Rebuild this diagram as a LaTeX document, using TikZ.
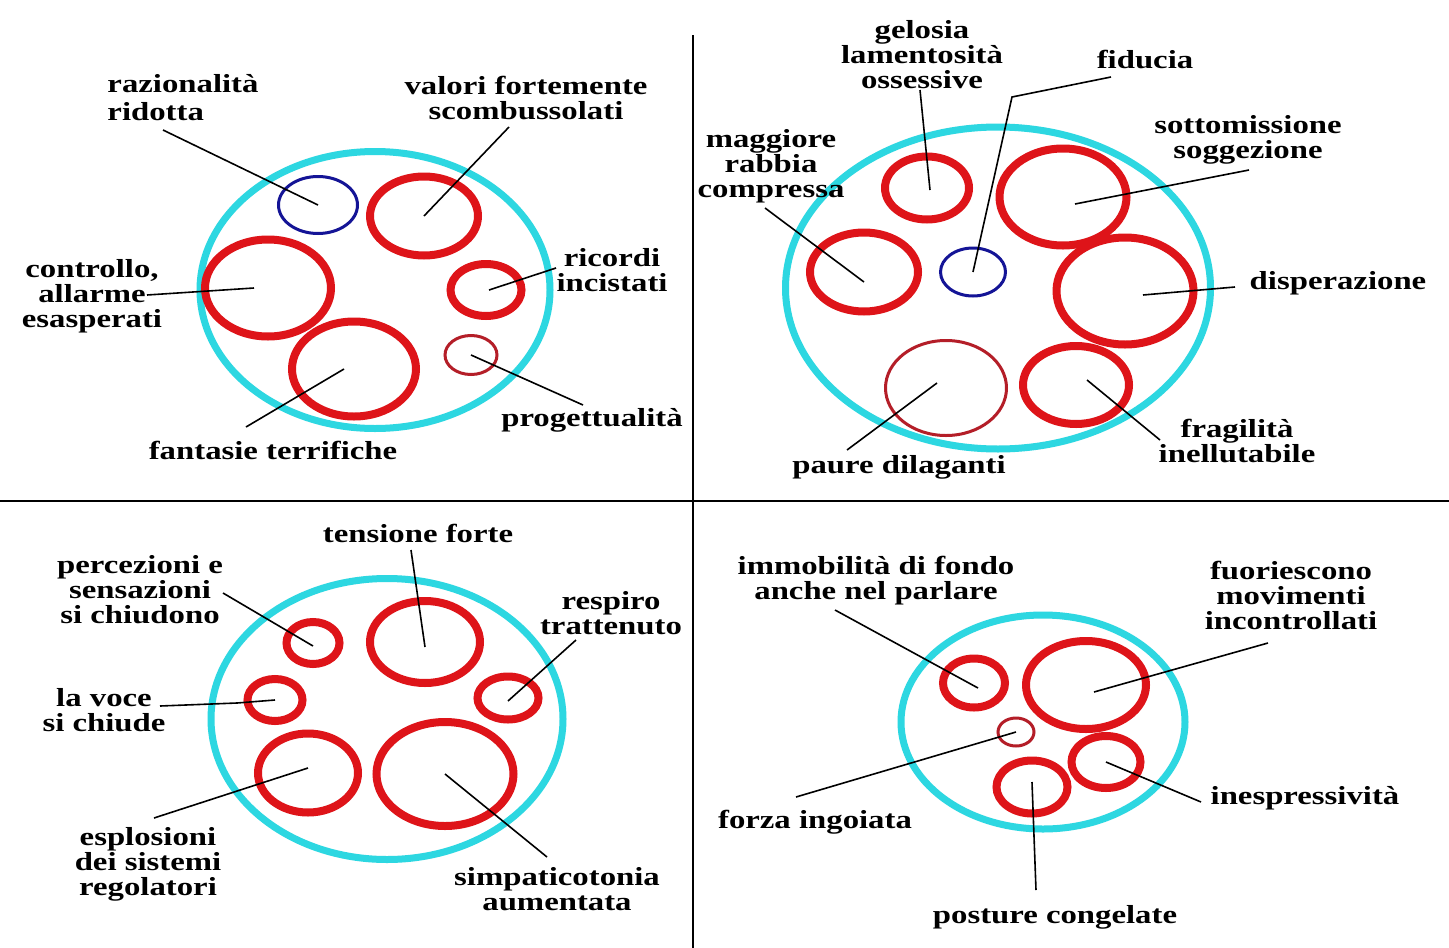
\documentclass[tikz,border=0pt]{standalone}
\usepackage{fontspec}
\setmainfont{Liberation Serif}[FakeStretch=1.26]
\usetikzlibrary{shapes.geometric}
\definecolor{cy}{RGB}{45,215,225}
\definecolor{rd}{RGB}{222,20,25}
\definecolor{drd}{RGB}{180,30,40}
\definecolor{bl}{RGB}{20,20,150}
\tikzset{
  ring/.style args={#1/#2}{ellipse, inner sep=0pt, outer sep=0pt, minimum width=#1, minimum height=#2},
  outer/.style={draw=cy, line width=7pt},
  thick red/.style={draw=rd, line width=8pt},
  thin red/.style={draw=drd, line width=3pt},
  thin blue/.style={draw=bl, line width=3pt},
  lbl/.style={font=\fontsize{26}{25}\selectfont\bfseries, align=center, inner sep=0pt, text=black},
  leader/.style={draw=black, line width=1.6pt},
  divider/.style={draw=black, line width=2pt}
}
\begin{document}
\begin{tikzpicture}[x=1pt, y=-1pt]
\useasboundingbox[fill=white] (0,0) rectangle (1449,948);
% dividers
\coordinate (vt) at (693,35);
\coordinate (vb) at (693,948);
\coordinate (hl) at (0,501);
\coordinate (hr) at (1449,501);
\draw[divider] (vt) -- (vb);
\draw[divider] (hl) -- (hr);

% ---------------- Quadrant 1 ----------------
\node[ring=350pt/277pt, outer] (c1) at (375,290) {};
\node[ring=79pt/57pt, thin blue] (q1raz) at (318,205) {};
\node[ring=108pt/79pt, thick red] (q1val) at (424,216) {};
\node[ring=126pt/97pt, thick red] (q1con) at (268,288) {};
\node[ring=71pt/52pt, thick red] (q1ric) at (486,290) {};
\node[ring=52pt/39pt, thin red] (q1pro) at (471,355) {};
\node[ring=124pt/95pt, thick red] (q1fan) at (354,369) {};

\node[lbl, align=left, font=\fontsize{26}{28}\selectfont\bfseries] (t1raz) at (183,98) {razionalità\\ridotta};
\node[lbl] (t1val) at (526,98) {valori fortemente\\scombussolati};
\node[lbl] (t1con) at (92,296) {controllo,\\allarme\\esasperati};
\node[lbl] (t1ric) at (612,270) {ricordi\\incistati};
\node[lbl] (t1pro) at (592,420) {progettualità};
\node[lbl] (t1fan) at (273,450) {fantasie terrifiche};

\coordinate (a1raz) at (163,130);
\coordinate (a1val) at (509,127);
\coordinate (a1con) at (147,295);
\coordinate (a1ric) at (556,268);
\coordinate (a1pro) at (583,405);
\coordinate (a1fan) at (246,427);
\draw[leader] (a1raz) -- (q1raz.center);
\draw[leader] (a1val) -- (q1val.center);
\draw[leader] (a1con) -- ([xshift=-14pt]q1con.center);
\draw[leader] (a1ric) -- ([xshift=3pt]q1ric.center);
\draw[leader] (a1pro) -- (q1pro.center);
\draw[leader] (a1fan) -- ([xshift=-10pt]q1fan.center);

% ---------------- Quadrant 2 ----------------
\node[ring=425pt/322pt, outer] (c2) at (998,288) {};
\node[ring=84pt/63pt, thick red] (q2gel) at (927,188) {};
\node[ring=127pt/97pt, thick red] (q2sot) at (1063,197) {};
\node[ring=108pt/79pt, thick red] (q2mag) at (864,272) {};
\node[ring=65pt/48pt, thin blue] (q2fid) at (973,272) {};
\node[ring=137pt/107pt, thick red] (q2dis) at (1125,291) {};
\node[ring=121pt/95pt, thin red] (q2pau) at (946,388) {};
\node[ring=106pt/78pt, thick red] (q2fra) at (1076,385) {};

\node[lbl] (t2gel) at (922,55) {gelosia\\lamentosità\\ossessive};
\node[lbl] (t2fid) at (1145,60) {fiducia};
\node[lbl] (t2sot) at (1248,140) {sottomissione\\soggezione};
\node[lbl] (t2mag) at (771,166) {maggiore\\rabbia\\compressa};
\node[lbl] (t2dis) at (1338,283) {disperazione};
\node[lbl] (t2pau) at (899,467) {paure dilaganti};
\node[lbl] (t2fra) at (1237,441) {fragilità\\inellutabile};

\coordinate (a2gel) at (920,90);
\coordinate (a2fid) at (1111,77);
\coordinate (b2fid) at (1012,97);
\coordinate (a2sot) at (1249,170);
\coordinate (a2mag) at (765,208);
\coordinate (a2dis) at (1235,287);
\coordinate (a2pau) at (847,450);
\coordinate (a2fra) at (1160,440);
\draw[leader] (a2gel) -- ([xshift=3pt,yshift=-2pt]q2gel.center);
\draw[leader] (a2fid) -- (b2fid) -- (q2fid.center);
\draw[leader] (a2sot) -- ([xshift=12pt,yshift=-7pt]q2sot.center);
\draw[leader] (a2mag) -- ([yshift=-10pt]q2mag.center);
\draw[leader] (a2dis) -- ([xshift=18pt,yshift=-4pt]q2dis.center);
\draw[leader] (a2pau) -- ([xshift=-9pt,yshift=5pt]q2pau.center);
\draw[leader] (a2fra) -- ([xshift=11pt,yshift=5pt]q2fra.center);

% ---------------- Quadrant 3 ----------------
\node[ring=352pt/281pt, outer] (c3) at (387,719) {};
\node[ring=53pt/42pt, thick red] (q3per) at (313,643) {};
\node[ring=110pt/82pt, thick red] (q3ten) at (425,642) {};
\node[ring=55pt/42pt, thick red] (q3voc) at (275,700) {};
\node[ring=61pt/43pt, thick red] (q3res) at (508,698) {};
\node[ring=100pt/79pt, thick red] (q3esp) at (308,773) {};
\node[ring=137pt/104pt, thick red] (q3sim) at (445,774) {};

\node[lbl] (t3ten) at (418,533) {tensione forte};
\node[lbl] (t3per) at (140,590) {percezioni e\\sensazioni\\si chiudono};
\node[lbl] (t3res) at (611,613) {respiro\\trattenuto};
\node[lbl] (t3voc) at (104,710) {la voce\\si chiude};
\node[lbl] (t3esp) at (148,864) {esplosioni\\dei sistemi\\regolatori};
\node[lbl] (t3sim) at (557,889) {simpaticotonia\\aumentata};

\coordinate (a3ten) at (411,550);
\coordinate (a3per) at (223,593);
\coordinate (a3res) at (576,640);
\coordinate (a3voc) at (160,706);
\coordinate (b3voc) at (237,703);
\coordinate (a3esp) at (154,818);
\coordinate (a3sim) at (547,857);
\draw[leader] (a3ten) -- ([yshift=-5pt]q3ten.center);
\draw[leader] (a3per) -- ([yshift=-3pt]q3per.center);
\draw[leader] (a3res) -- ([yshift=-3pt]q3res.center);
\draw[leader] (a3voc) -- (b3voc) -- (q3voc.center);
\draw[leader] (a3esp) -- ([yshift=5pt]q3esp.center);
\draw[leader] (a3sim) -- (q3sim.center);

% ---------------- Quadrant 4 ----------------
\node[ring=284pt/214pt, outer] (c4) at (1043,722) {};
\node[ring=62pt/49pt, thick red] (q4imm) at (974,683) {};
\node[ring=120pt/88pt, thick red] (q4fuo) at (1086,685) {};
\node[ring=36pt/28pt, thin red] (q4for) at (1016,732) {};
\node[ring=69pt/52pt, thick red] (q4ine) at (1106,762) {};
\node[ring=71pt/53pt, thick red] (q4pos) at (1032,787) {};

\node[lbl] (t4imm) at (876,581) {immobilità di fondo\\anche nel parlare};
\node[lbl] (t4fuo) at (1291,595) {fuoriescono\\movimenti\\incontrollati};
\node[lbl] (t4for) at (815,822) {forza ingoiata};
\node[lbl] (t4ine) at (1305,798) {inespressività};
\node[lbl] (t4pos) at (1055,917) {posture congelate};

\coordinate (a4imm) at (835,610);
\coordinate (a4fuo) at (1268,643);
\coordinate (a4for) at (796,797);
\coordinate (a4ine) at (1201,802);
\coordinate (a4pos) at (1036,890);
\draw[leader] (a4imm) -- ([xshift=4pt,yshift=-5pt]q4imm.center);
\draw[leader] (a4fuo) -- ([xshift=8pt,yshift=-7pt]q4fuo.center);
\draw[leader] (a4for) -- (q4for.center);
\draw[leader] (a4ine) -- (q4ine.center);
\draw[leader] (a4pos) -- ([yshift=5pt]q4pos.center);
\end{tikzpicture}
\end{document}
